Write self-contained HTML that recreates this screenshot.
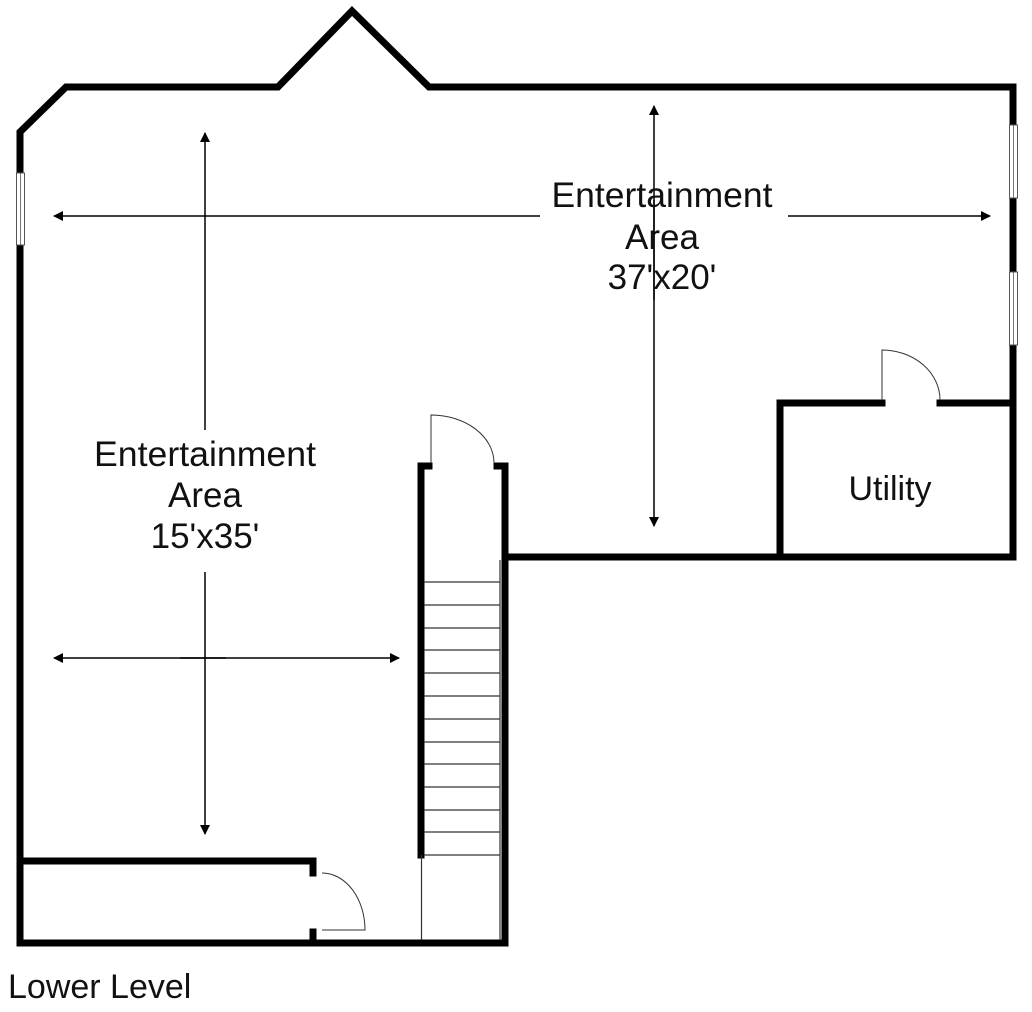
<!DOCTYPE html>
<html><head><meta charset="utf-8"><style>
html,body{margin:0;padding:0;background:#fff;}
svg{display:block;}
text{font-family:"Liberation Sans",sans-serif;fill:#111;}
</style></head><body>
<svg width="1032" height="1012" viewBox="0 0 1032 1012" xmlns="http://www.w3.org/2000/svg">
<defs>
<marker id="ah" markerWidth="10" markerHeight="10" refX="9" refY="5" orient="auto" markerUnits="userSpaceOnUse">
<path d="M0,0 L10,5 L0,10 Z" fill="#000"/>
</marker>
</defs>
<g stroke="#000" stroke-width="7" fill="none" stroke-linejoin="miter" stroke-linecap="square">
<polyline points="20,410 20,132 66,87 278,87 352,11 429,87 1013,87 1013,557 505,557"/>
<line x1="20" y1="410" x2="20" y2="943"/>
<line x1="20" y1="943" x2="505" y2="943"/>
<line x1="505" y1="466" x2="505" y2="943"/>
<line x1="497" y1="466" x2="505" y2="466"/>
<polyline points="429,466 421,466 421,855"/>
<polyline points="882,403 780,403 780,557"/>
<line x1="940" y1="403" x2="1013" y2="403"/>
<polyline points="20,861 313,861 313,873"/>
<line x1="313" y1="932" x2="313" y2="943"/>
</g>
<g fill="#fff" stroke="#555" stroke-width="1">
<rect x="16.5" y="173" width="8" height="72"/>
<rect x="1009.5" y="125" width="8" height="73"/>
<rect x="1009.5" y="272" width="8" height="73"/>
</g>
<g stroke="#555" stroke-width="0.8">
<line x1="20.5" y1="173" x2="20.5" y2="245"/>
<line x1="1013.5" y1="125" x2="1013.5" y2="198"/>
<line x1="1013.5" y1="272" x2="1013.5" y2="345"/>
</g>
<g stroke="#333" stroke-width="1.2">
<line x1="424" y1="582" x2="500" y2="582"/>
<line x1="424" y1="605" x2="500" y2="605"/>
<line x1="424" y1="628" x2="500" y2="628"/>
<line x1="424" y1="650" x2="500" y2="650"/>
<line x1="424" y1="673" x2="500" y2="673"/>
<line x1="424" y1="696" x2="500" y2="696"/>
<line x1="424" y1="719" x2="500" y2="719"/>
<line x1="424" y1="742" x2="500" y2="742"/>
<line x1="424" y1="764" x2="500" y2="764"/>
<line x1="424" y1="787" x2="500" y2="787"/>
<line x1="424" y1="810" x2="500" y2="810"/>
<line x1="424" y1="832" x2="500" y2="832"/>
<line x1="424" y1="855" x2="500" y2="855"/>
<line x1="500" y1="560" x2="500" y2="940"/>
<line x1="421.5" y1="855" x2="421.5" y2="940"/>
</g>
<g stroke="#333" stroke-width="1" fill="none">
<path d="M431,463 L431,415 A63,48 0 0 1 494,463"/>
<path d="M882,400 L882,350 A58,50 0 0 1 940,400"/>
<path d="M322,873 A43,57 0 0 1 365,930 L322,930"/>
</g>
<g stroke="#000" stroke-width="1.5" fill="none">
<line x1="205" y1="430" x2="205" y2="133" marker-end="url(#ah)"/>
<line x1="205" y1="572" x2="205" y2="834" marker-end="url(#ah)"/>
<line x1="540" y1="216" x2="54" y2="216" marker-end="url(#ah)"/>
<line x1="788" y1="216" x2="990" y2="216" marker-end="url(#ah)"/>
<line x1="226" y1="658" x2="54" y2="658" marker-end="url(#ah)"/>
<line x1="180" y1="658" x2="399" y2="658" marker-end="url(#ah)"/>
<line x1="654" y1="300" x2="654" y2="106" marker-end="url(#ah)"/>
<line x1="654" y1="200" x2="654" y2="526" marker-end="url(#ah)"/>
</g>
<g font-size="35" text-anchor="middle">
<text x="662" y="207" textLength="221" lengthAdjust="spacingAndGlyphs">Entertainment</text>
<text x="662" y="249">Area</text>
<text x="662" y="289">37'x20'</text>
<text x="205" y="466" textLength="222" lengthAdjust="spacingAndGlyphs">Entertainment</text>
<text x="205" y="507">Area</text>
<text x="205" y="548">15'x35'</text>
<text x="890" y="500" font-size="34">Utility</text>
</g>
<text x="8" y="998" font-size="34">Lower Level</text>
</svg>
</body></html>
